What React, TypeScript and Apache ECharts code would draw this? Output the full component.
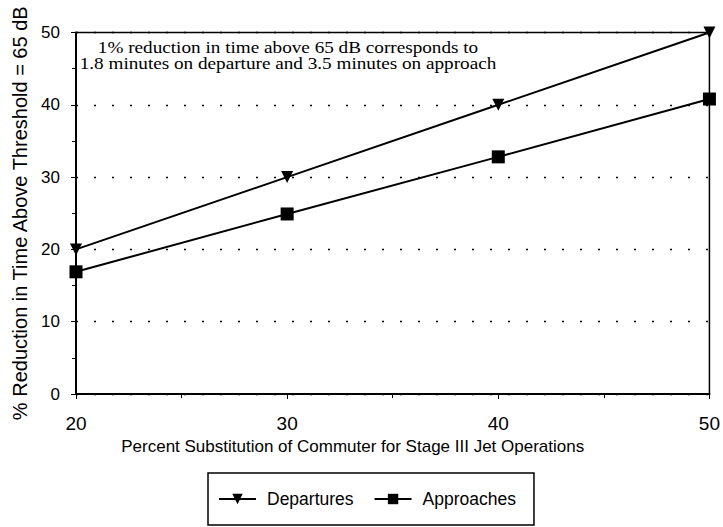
import React, { useEffect, useRef } from "react";
import * as echarts from "echarts";

const substitution = [20, 30, 40, 50];
const departures = [20, 30, 40, 50];
const approaches = [16.9, 24.9, 32.8, 40.8];
const noteLines = [
  "1% reduction in time above 65 dB corresponds to",
  "1.8 minutes on departure and 3.5 minutes on approach",
];

export default function App() {
  const ref = useRef<HTMLDivElement>(null);
  useEffect(() => {
    if (!ref.current) return;
    const chart = echarts.init(ref.current, null, { renderer: "svg" });
    const font = "Liberation Sans, Arial, sans-serif";
    chart.setOption({
      animation: false,
      backgroundColor: "#fff",
      textStyle: { fontFamily: font, color: "#000" },
      grid: {
        left: 76,
        right: 11,
        top: 32.5,
        bottom: 133,
        show: true,
        borderColor: "#000",
        borderWidth: 1.5,
      },
      xAxis: {
        type: "value",
        min: 20,
        max: 50,
        interval: 10,
        name: "Percent Substitution of Commuter for Stage III Jet Operations",
        nameLocation: "middle",
        nameGap: 38,
        nameTextStyle: { fontSize: 17, color: "#000", fontFamily: font, padding: [0, 80, 0, 0] },
        axisLine: { lineStyle: { color: "#000", width: 2 } },
        axisTick: { inside: false, length: 5, lineStyle: { color: "#000" } },
        minorTick: { show: true, splitNumber: 2, length: 4, lineStyle: { color: "#000" } },
        axisLabel: { fontSize: 19, color: "#000", margin: 20, fontFamily: font },
        splitLine: { show: false },
      },
      yAxis: {
        type: "value",
        min: 0,
        max: 50,
        interval: 10,
        name: "% Reduction in Time Above Threshold = 65 dB",
        nameLocation: "middle",
        nameGap: 44,
        nameTextStyle: { fontSize: 20, color: "#000", fontFamily: font },
        axisLine: { lineStyle: { color: "#000", width: 2 } },
        axisTick: { length: 5, lineStyle: { color: "#000" } },
        minorTick: { show: true, splitNumber: 2, length: 4, lineStyle: { color: "#000" } },
        axisLabel: { fontSize: 17, color: "#000", margin: 16, fontFamily: font },
        splitLine: { show: true, lineStyle: { color: "#000", type: [2, 16], width: 1.3 } },
      },
      legend: {
        bottom: 2,
        left: 208,
        orient: "horizontal",
        itemWidth: 37,
        itemHeight: 13,
        itemGap: 20,
        padding: [17, 18, 17, 10],
        borderColor: "#000",
        borderWidth: 1.5,
        textStyle: { fontSize: 17.5, color: "#000", fontFamily: font, padding: [0, 0, 0, 6] },
        data: ["Departures", "Approaches"],
      },
      graphic: [
        {
          type: "text",
          x: 288,
          y: 40,
          scaleX: 1.2,
          style: {
            text: noteLines.join("\n"),
            x: 0,
            y: 0,
            font: "16px 'Liberation Serif', 'Times New Roman', serif",
            fill: "#000",
            lineHeight: 16,
            align: "center",
            verticalAlign: "top",
          },
        },
      ],
      series: [
        {
          name: "Departures",
          type: "line",
          data: substitution.map((x, i) => [x, departures[i]]),
          symbol: "triangle",
          symbolRotate: 180,
          symbolSize: 12,
          color: "#000",
          lineStyle: { color: "#000", width: 2 },
          itemStyle: { color: "#000" },
        },
        {
          name: "Approaches",
          type: "line",
          data: substitution.map((x, i) => [x, approaches[i]]),
          symbol: "rect",
          symbolSize: 13,
          color: "#000",
          lineStyle: { color: "#000", width: 2 },
          itemStyle: { color: "#000" },
        },
      ],
    });
    return () => chart.dispose();
  }, []);
  return <div ref={ref} style={{ width: 723, height: 527, position: "absolute", left: 0, top: 0 }} />;
}
